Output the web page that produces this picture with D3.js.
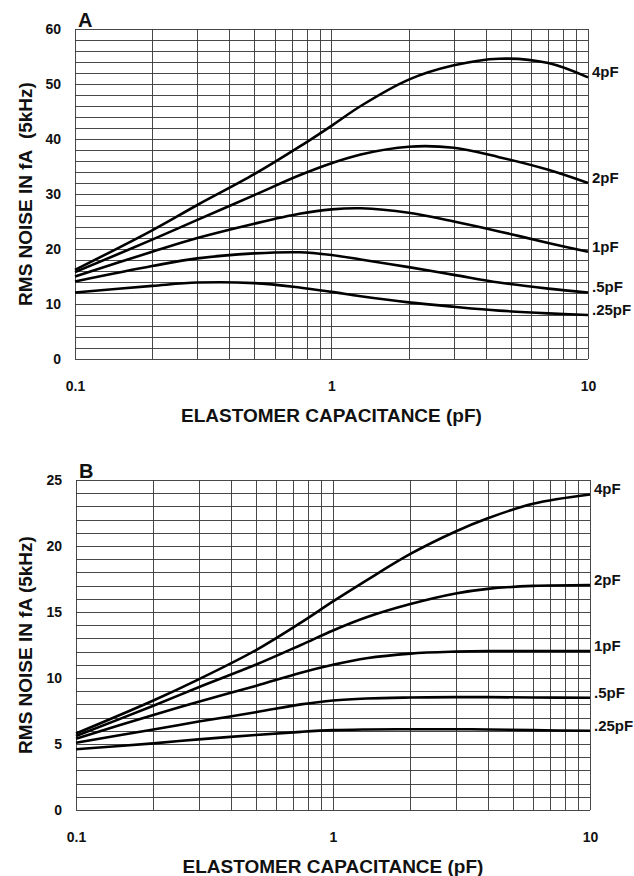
<!DOCTYPE html>
<meta charset="utf-8">
<script src="https://d3js.org/d3.v7.min.js"></script>
<style>
body { margin: 0; background: #fff; }
svg text { font-family: "Liberation Sans", Arial, sans-serif; font-weight: bold; fill: #111; }
.grid line { stroke: #333; stroke-width: 0.9; }
.curve { fill: none; stroke: #000; stroke-width: 2.6; }
</style>
<div id="chart"></div>
<script>

// ---- data ----
var seriesNames = ["4pF", "2pF", "1pF", ".5pF", ".25pF"];

// panel A: elastomer capacitance (pF) and rms noise (fA)
var xA = [0.1, 0.2, 0.3, 0.5, 0.75, 1, 1.3, 2, 3, 4.5, 7, 10];
var a4pF  = [16.2, 23.4, 28.0, 33.6, 38.6, 42.4, 46.0, 50.8, 53.4, 54.6, 53.8, 51.2];
var a2pF  = [15.8, 21.7, 25.3, 29.8, 33.4, 35.6, 37.2, 38.6, 38.4, 36.7, 34.4, 32.0];
var a1pF  = [15.0, 19.5, 22.0, 24.6, 26.4, 27.2, 27.4, 26.6, 25.0, 23.2, 21.1, 19.5];
var a05pF = [14.1, 16.9, 18.3, 19.2, 19.4, 18.9, 18.1, 16.7, 15.3, 13.9, 12.8, 12.1];
var a025pF = [12.1, 13.3, 13.9, 13.8, 13.0, 12.2, 11.4, 10.3, 9.5, 8.8, 8.3, 8.0];

// panel B
var xB = [0.1, 0.2, 0.3, 0.5, 0.75, 1, 1.35, 2, 3, 4, 6, 10];
var b4pF  = [5.8, 8.3, 9.9, 12.1, 14.2, 15.8, 17.4, 19.4, 21.1, 22.1, 23.2, 23.9];
var b2pF  = [5.6, 7.9, 9.3, 11.0, 12.5, 13.6, 14.6, 15.6, 16.4, 16.75, 16.98, 17.05];
var b1pF  = [5.4, 7.2, 8.2, 9.4, 10.4, 11.0, 11.5, 11.85, 12.0, 12.05, 12.05, 12.05];
var b05pF = [5.1, 6.1, 6.7, 7.4, 8.0, 8.3, 8.45, 8.52, 8.55, 8.55, 8.52, 8.5];
var b025pF = [4.6, 5.05, 5.35, 5.68, 5.92, 6.05, 6.1, 6.12, 6.12, 6.1, 6.05, 6.0];

var xTicks = [0.1, 1, 10];
var yTicksA = [0, 10, 20, 30, 40, 50, 60];
var yTicksB = [0, 5, 10, 15, 20, 25];

var xTitle = "ELASTOMER CAPACITANCE (pF)";
var yTitleA = "RMS NOISE IN fA\u00a0 (5kHz)";
var yTitleB = "RMS NOISE IN fA (5kHz)";

// ---- drawing ----
var width = 634, height = 876;

var svg = d3.select("#chart")
  .append("svg")
    .attr("width", width)
    .attr("height", height);

// minor log positions 0.1..10
var logGrid = [];
[0.1, 1].forEach(function (d) {
  for (var k = 1; k < 10; k++) logGrid.push(+(d * k).toFixed(2));
});
logGrid.push(10);

function drawPanel(p) {
  var x = d3.scaleLog().domain([0.1, 10]).range([p.left, p.right]);
  var y = d3.scaleLinear().domain([0, p.ymax]).range([p.bottom, p.top]);

  var g = svg.append("g");

  // grid
  var grid = g.append("g").attr("class", "grid");
  grid.selectAll(".h")
    .data(d3.range(0, p.ymax + 0.001, p.gridStep))
    .enter().append("line")
      .attr("x1", p.left).attr("x2", p.right)
      .attr("y1", function (d) { return Math.round(y(d)) + 0.5; })
      .attr("y2", function (d) { return Math.round(y(d)) + 0.5; });
  grid.selectAll(".v")
    .data(logGrid)
    .enter().append("line")
      .attr("y1", p.top).attr("y2", p.bottom)
      .attr("x1", function (d) { return Math.round(x(d)) + 0.5; })
      .attr("x2", function (d) { return Math.round(x(d)) + 0.5; });

  // axes (labels only, the grid is the frame)
  var yAxis = g.append("g")
    .attr("transform", "translate(" + p.left + ",0)")
    .call(d3.axisLeft(y).tickValues(p.yTicks).tickSize(0).tickPadding(14).tickFormat(d3.format("d")));
  var xAxis = g.append("g")
    .attr("transform", "translate(0," + p.bottom + ")")
    .call(d3.axisBottom(x).tickValues(xTicks).tickSize(0).tickPadding(22).tickFormat(function (d) { return d; }));
  [yAxis, xAxis].forEach(function (a) {
    a.select(".domain").remove();
    a.selectAll("text").style("font-size", "14px").attr("fill", "#111");
  });

  // curves
  var line = d3.line()
    .x(function (d) { return x(d[0]); })
    .y(function (d) { return y(d[1]); })
    .curve(d3.curveCatmullRom.alpha(0.5));

  p.series.forEach(function (vals, i) {
    var pts = p.xs.map(function (xv, j) { return [xv, vals[j]]; });
    g.append("path").attr("class", "curve").attr("d", line(pts));
    g.append("text")
      .attr("x", p.right + 4)
      .attr("y", y(vals[vals.length - 1]) - 4)
      .attr("dominant-baseline", "middle")
      .style("font-size", "15px")
      .text(seriesNames[i]);
  });

  // titles
  g.append("text")
    .attr("x", p.left + 3).attr("y", p.top - 2)
    .style("font-size", "20px")
    .text(p.letter);
  g.append("text")
    .attr("x", (p.left + p.right) / 2).attr("y", p.bottom + 63)
    .attr("text-anchor", "middle")
    .style("font-size", "19px")
    .text(xTitle);
  g.append("text")
    .attr("transform", "translate(32," + ((p.top + p.bottom) / 2) + ") rotate(-90)")
    .attr("text-anchor", "middle")
    .style("font-size", "19px")
    .text(p.yTitle);
}

drawPanel({
  letter: "A", left: 75, right: 588, top: 29, bottom: 359,
  ymax: 60, gridStep: 2, yTicks: yTicksA, yTitle: yTitleA,
  xs: xA, series: [a4pF, a2pF, a1pF, a05pF, a025pF]
});

drawPanel({
  letter: "B", left: 76, right: 590, top: 480, bottom: 810,
  ymax: 25, gridStep: 1, yTicks: yTicksB, yTitle: yTitleB,
  xs: xB, series: [b4pF, b2pF, b1pF, b05pF, b025pF]
});

</script>
